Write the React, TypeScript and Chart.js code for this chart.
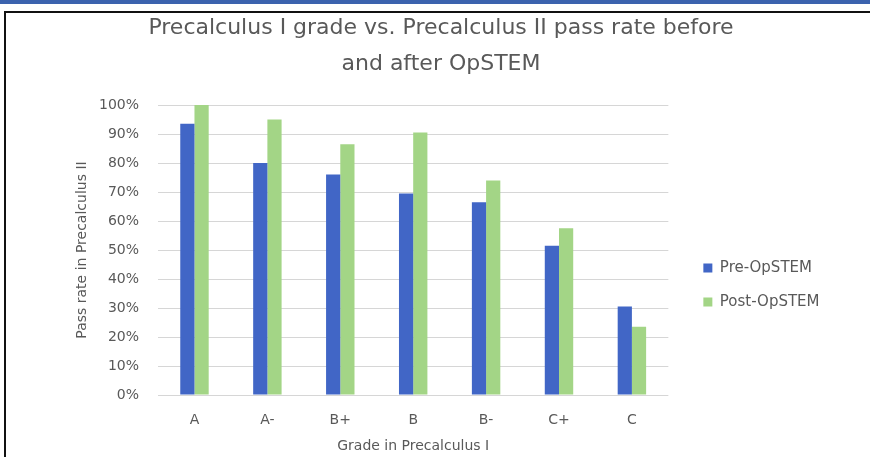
import React, { useEffect, useRef } from "react";
import { Chart, registerables } from "chart.js";

Chart.register(...registerables);

const categories = ["A", "A-", "B+", "B", "B-", "C+", "C"];
const preOpSTEM = [93.5, 80, 76, 69.5, 66.5, 51.5, 30.5];
const postOpSTEM = [100, 95, 86.5, 90.5, 74, 57.5, 23.5];
const titleLines = ["Precalculus I grade vs. Precalculus II pass rate before", "and after OpSTEM"];

const FONT = "'DejaVu Sans', sans-serif";
const GRAY = "#595959";

export default function App() {
  const ref = useRef<HTMLCanvasElement | null>(null);

  useEffect(() => {
    if (!ref.current) return;
    const chart = new Chart(ref.current, {
      type: "bar",
      data: {
        labels: categories,
        datasets: [
          { label: "Pre-OpSTEM", data: preOpSTEM, backgroundColor: "#4166C6", categoryPercentage: 0.39, barPercentage: 1 },
          { label: "Post-OpSTEM", data: postOpSTEM, backgroundColor: "#A3D586", categoryPercentage: 0.39, barPercentage: 1 },
        ],
      },
      options: {
        animation: false,
        responsive: false,
        maintainAspectRatio: false,
        layout: { padding: { left: 52.5, right: 40.5, top: 0, bottom: 2 } },
        plugins: {
          title: {
            display: true,
            text: titleLines,
            color: GRAY,
            font: { family: FONT, size: 22, weight: "normal", lineHeight: 36 / 22 },
            padding: { top: 10, bottom: 23 },
          },
          legend: {
            position: "right",
            align: "center",
            maxWidth: 220,
            title: {
              display: true,
              text: " ",
              font: { family: FONT, size: 10, lineHeight: 1.2 },
              padding: { top: 103, bottom: 0 },
            },
            labels: {
              color: GRAY,
              font: { family: FONT, size: 15 },
              boxWidth: 9,
              boxHeight: 9,
              padding: 19,
            },
          },
          tooltip: { enabled: false },
        },
        scales: {
          x: {
            grid: { display: false, drawTicks: false },
            border: { display: false },
            ticks: { color: GRAY, font: { family: FONT, size: 14 }, padding: 16.6 },
            title: {
              display: true,
              text: "Grade in Precalculus I",
              color: GRAY,
              font: { family: FONT, size: 14 },
              padding: { top: -6.8, bottom: 0 },
            },
          },
          y: {
            min: 0,
            max: 100,
            grid: { color: "#d6d6d6", drawTicks: false },
            border: { display: false },
            ticks: {
              stepSize: 10,
              color: GRAY,
              font: { family: FONT, size: 14 },
              padding: 19,
              callback: (v: any) => v + "%",
            },
            title: {
              display: true,
              text: "Pass rate in Precalculus II",
              color: GRAY,
              font: { family: FONT, size: 14 },
              padding: { top: 21, bottom: -10.3 },
            },
          },
          y2: {
            position: "right",
            display: true,
            grid: { display: false },
            border: { display: false },
            ticks: { display: false },
            afterFit: (s: any) => { s.width = 16; },
          },
        },
      },
    } as any);
    return () => chart.destroy();
  }, []);

  return (
    <div style={{ position: "absolute", left: 0, top: 0, width: 870, height: 457, background: "#fff", overflow: "hidden" }}>
      <div style={{ position: "absolute", left: 0, top: 0, width: 870, height: 4, background: "#3B63AE" }} />
      <div style={{ position: "absolute", left: 4, top: 11, width: 880, height: 460, borderTop: "2px solid #111", borderLeft: "2px solid #111" }} />
      <canvas ref={ref} width={870} height={457} style={{ position: "absolute", left: 0, top: 0 }} />
    </div>
  );
}
